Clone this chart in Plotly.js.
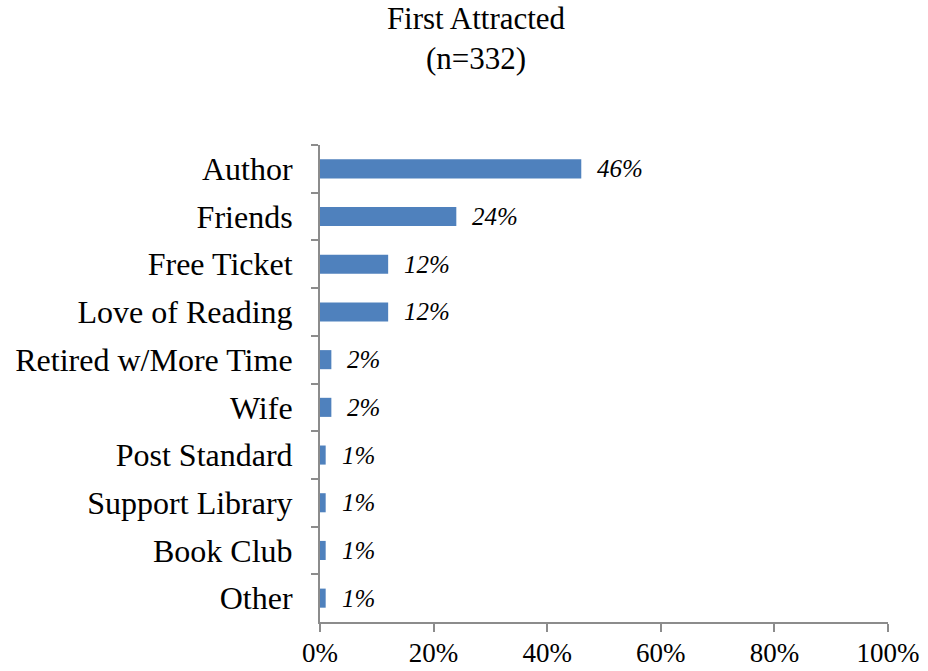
<!DOCTYPE html>
<html>
<head>
<meta charset="utf-8">
<script src="https://cdn.plot.ly/plotly-3.0.1.min.js"></script>
<style>html,body{margin:0;padding:0;background:#fff;}</style>
</head>
<body>
<div id="chart" style="width:928px;height:671px;"></div>
<script>
const categories = ["Author","Friends","Free Ticket","Love of Reading","Retired w/More Time","Wife","Post Standard","Support Library","Book Club","Other"];
const values = [0.46,0.24,0.12,0.12,0.02,0.02,0.01,0.01,0.01,0.01];
const labels = ["46%","24%","12%","12%","2%","2%","1%","1%","1%","1%"];
const xTicks = [0,0.2,0.4,0.6,0.8,1.0];
const xTickText = ["0%","20%","40%","60%","80%","100%"];

const trace = {
  type: "bar",
  orientation: "h",
  x: values,
  y: categories,
  width: 0.4,
  marker: {color: "#4F81BD", line: {width: 0}},
  hoverinfo: "skip"
};

const annotations = categories.map((c, i) => ({
  x: values[i], y: c, xref: "x", yref: "y",
  text: labels[i], showarrow: false, xanchor: "left", yanchor: "middle",
  xshift: 14,
  font: {family: "Liberation Serif", size: 25, color: "#000", style: "italic"}
}));

const layout = {
  width: 928, height: 671,
  margin: {l: 320, r: 40, t: 145, b: 49},
  paper_bgcolor: "#fff", plot_bgcolor: "#fff",
  showlegend: false,
  font: {family: "Liberation Serif", color: "#000"},
  title: {
    text: "First Attracted<br>(n=332)",
    x: 476/928, xanchor: "center", xref: "container",
    y: 1 - 29/671, yanchor: "top", yref: "container",
    font: {family: "Liberation Serif", size: 31, color: "#000"}
  },
  xaxis: {
    range: [0, 1], tickvals: xTicks, ticktext: xTickText,
    showgrid: false, zeroline: false,
    showline: true, linecolor: "#8c8c8c", linewidth: 2,
    ticks: "outside", ticklen: 8, tickwidth: 2, tickcolor: "#8c8c8c",
    ticklabelstandoff: -2,
    tickfont: {family: "Liberation Serif", size: 27, color: "#000"},
    fixedrange: true
  },
  yaxis: {
    type: "category", autorange: "reversed",
    showgrid: false, zeroline: false,
    showline: true, linecolor: "#8c8c8c", linewidth: 2,
    ticks: "outside", ticklen: 7, tickwidth: 2, tickcolor: "#8c8c8c",
    tickson: "boundaries", ticklabelstandoff: 19,
    tickfont: {family: "Liberation Serif", size: 32, color: "#000"},
    fixedrange: true
  },
  annotations: annotations
};

Plotly.newPlot("chart", [trace], layout, {displayModeBar: false, staticPlot: true});
</script>
</body>
</html>
